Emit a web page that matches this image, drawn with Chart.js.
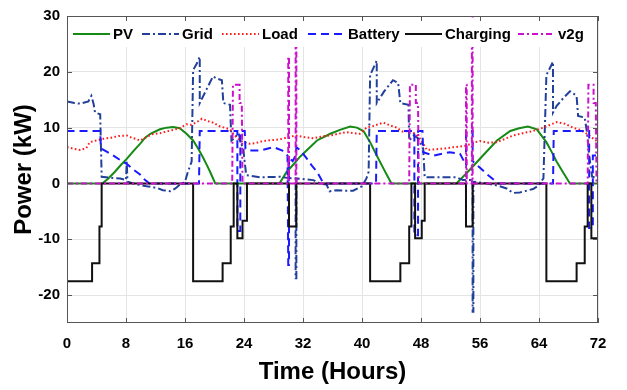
<!DOCTYPE html>
<html><head><meta charset="utf-8">
<script src="https://cdn.jsdelivr.net/npm/chart.js@4.4.0/dist/chart.umd.min.js"></script>
<style>html,body{margin:0;padding:0;background:#fff;}#wrap{width:627px;height:390px;}</style>
</head><body><div id="wrap"><canvas id="c" width="627" height="390"></canvas></div>
<script>
// ---- axis ticks ----
const xTicks = [0, 8, 16, 24, 32, 40, 48, 56, 64, 72];
const yTicks = [-20, -10, 0, 10, 20, 30];

// ---- series names ----
const seriesNames = ['PV', 'Grid', 'Load', 'Battery', 'Charging', 'v2g'];

// ---- PV (kW) ----
const pvTime  = [0, 4.8, 5.6, 6.5, 7.3, 8.1, 9.0, 9.9, 10.6, 11.3, 12.6, 13.5, 14.4, 15.3, 16.2, 17.1, 17.8, 18.5, 19.0, 19.4, 20.1,
                 28.8, 29.8, 30.7, 31.6, 32.8, 33.9, 35.7, 37.0, 38.4, 39.3, 40.2, 41.1, 42.0, 42.9, 43.5, 44.0,
                 52.8, 54.0, 55.0, 56.4, 58.3, 60.1, 61.3, 62.5, 63.7, 65.0, 65.7, 66.4, 67.3, 68.2, 72];
const pvPower = [0, 0, 0.9, 2.1, 3.3, 4.4, 5.8, 7.1, 8.2, 8.9, 9.7, 10.0, 10.1, 9.9, 8.9, 7.7, 6.2, 4.5, 3.2, 2.1, 0,
                 0, 2.1, 3.4, 4.8, 6.3, 7.7, 8.9, 9.6, 10.2, 10.0, 9.4, 7.4, 5.0, 2.7, 1.2, 0,
                 0, 1.6, 3.0, 5.0, 7.7, 9.4, 9.9, 10.2, 9.7, 7.4, 5.7, 3.9, 1.9, 0, 0];

// ---- Grid (kW) ----
const gridTime  = [0, 1.0, 1.8, 2.9, 3.3, 3.6, 3.8, 4.5, 4.7, 6.0, 7.2, 8.0, 8.1, 8.2, 9.0, 10.0, 10.8, 12.2, 13.0, 14.0, 14.7, 15.3, 16.0, 16.4, 16.9,
                   17.1, 17.6, 18.0, 18.0, 18.9, 19.8, 20.3, 21.0, 21.2, 22.1, 22.3, 22.8, 23.3, 23.5, 23.9, 24.3, 26.2, 28.9, 29.8, 31.0, 31.0, 31.1, 31.1,
                   33.4, 34.3, 35.2, 35.6, 36.5, 37.5, 38.8, 40.0, 40.6, 40.9, 41.1, 42.0, 42.0, 43.0, 44.2, 44.9, 45.2, 46.3, 46.4, 47.0, 47.5, 47.9, 48.3, 48.5,
                   50.5, 52.8, 53.7, 55.0, 55.0, 55.1, 55.1, 57.0, 58.7, 59.6, 60.5, 61.4, 62.3, 63.2, 63.9, 64.6, 65.0, 65.9, 65.9, 66.4, 67.3, 68.2, 68.9, 69.1,
                   69.3, 70.2, 70.5, 70.8, 71.2, 72.0];
const gridPower = [14.7, 14.4, 14.3, 14.7, 15.7, 14.3, 12.7, 12.4, 1.2, 1.0, 0.9, 0.6, 3.9, 0.3, 0.0, -0.3, -0.5, -0.8, -1.2, -1.4, -0.9, -0.2, 0.3, 2.1, 3.9,
                   20.3, 21.5, 22.7, 14.4, 16.8, 19.2, 18.8, 18.5, 14.4, 14.1, 7.7, 8.3, 9.0, 7.5, 6.2, 1.5, 1.1, 1.2, 1.0, 0.9, -17.0, -17.0, 0.9,
                   0.6, 0.0, -0.2, -1.4, -1.2, -1.3, -1.3, -0.5, 0.9, 2.1, 19.4, 22.0, 14.4, 16.5, 18.5, 18.0, 14.4, 14.1, 7.7, 8.6, 8.2, 7.4, 6.2, 1.1,
                   1.1, 1.1, 0.6, 0.6, -23.0, -23.0, 0.3, 0.0, -0.5, -0.9, -1.7, -1.6, -1.3, -1.0, -0.4, 0.9, 19.4, 21.8, 12.7, 13.9, 15.3, 16.5, 15.9, 15.6,
                   12.1, 11.8, 9.2, 5.0, 1.2, 1.0];

// ---- Load (kW) ----
const loadTime  = [0, 1.0, 1.8, 2.6, 3.1, 4.0, 4.9, 6.0, 7.0, 8.1, 8.6, 9.9, 10.8, 11.5, 12.6, 13.5, 14.4, 15.3, 16.2, 16.8, 17.5, 18.3, 19.0, 19.8,
                   20.6, 21.3, 22.1, 22.6, 23.2, 23.9, 24.8, 25.5, 26.3, 27.1, 28.0, 28.9, 30.0, 31.1, 32.2, 33.4, 34.5, 35.7, 36.8, 37.9, 38.8, 39.7,
                   40.6, 41.5, 42.9, 43.8, 44.7, 45.5, 46.5, 47.2, 47.9, 48.8, 49.7, 50.6, 51.5, 52.4, 53.3, 54.2, 55.1, 56.0, 57.2, 58.3, 59.4, 60.5,
                   61.8, 63.2, 64.6, 65.5, 66.4, 67.5, 68.6, 69.6, 70.5, 71.2, 72];
const loadPower = [6.5, 6.2, 6.0, 6.3, 7.4, 7.7, 8.0, 8.2, 8.5, 8.6, 8.3, 7.7, 8.3, 8.8, 9.0, 9.3, 9.6, 9.9, 10.6, 10.5, 10.9, 11.6, 11.2, 10.9,
                   10.3, 10.0, 9.7, 8.8, 8.0, 7.4, 7.1, 7.2, 7.5, 7.7, 7.8, 7.9, 8.3, 8.6, 8.3, 8.1, 8.4, 8.6, 8.9, 9.2, 9.0, 8.9,
                   10.0, 10.3, 10.9, 10.4, 10.0, 9.3, 9.4, 8.9, 8.0, 6.0, 6.1, 6.2, 6.3, 6.5, 6.6, 6.8, 7.3, 7.6, 7.3, 7.4, 8.0, 8.6,
                   9.0, 9.4, 10.0, 10.5, 11.0, 10.7, 10.0, 9.6, 8.9, 8.2, 7.4];

// ---- Battery (kW) ----
const battTime  = [0, 0, 4.5, 4.6, 5.5, 6.3, 7.2, 8.1, 9.0, 9.9, 10.6, 11.2, 17.9, 18.0, 23.1, 23.1, 23.5, 23.5, 24.1, 24.2, 25.0, 26.2, 28.0, 29.2,
                   29.9, 30.0, 30.1, 30.1, 30.6, 31.0, 31.1, 31.6, 32.5, 33.2, 33.9, 34.8, 41.9, 42.0, 47.1, 47.1, 47.6, 47.6, 48.2, 48.3, 49.7,
                   51.9, 53.3, 54.1, 54.1, 55.0, 55.0, 56.0, 57.0, 58.5, 65.9, 66.0, 70.8, 70.8, 71.3, 71.3, 72];
const battPower = [0, 9.4, 9.4, 6.3, 5.6, 5.0, 4.2, 3.5, 2.5, 1.6, 0.6, 0, 0, 9.4, 9.4, -8.5, -8.5, 9.4, 9.4, 6.2, 5.9, 5.9, 6.5, 5.9,
                   5.0, -14.6, -14.6, 4.6, 4.0, 5.0, 6.5, 6.0, 4.5, 3.2, 2.1, 0, 0, 9.4, 9.4, -9.3, -9.3, 9.4, 9.4, 5.6, 5.0,
                   5.6, 5.3, 3.3, 9.4, 9.4, 4.0, 2.8, 1.6, 0, 0, 9.4, 9.4, -8.0, -8.0, 5.0, 5.0];

// ---- EV charging (kW) ----
const chgTime  = [0, 3.4, 3.4, 4.4, 4.4, 4.7, 4.7, 17.1, 17.1, 21.1, 21.1, 22.2, 22.2, 22.6, 22.6, 23.1, 23.1, 23.8, 23.8, 24.4, 24.4,
                  30.1, 30.1, 31.1, 31.1, 41.1, 41.1, 45.2, 45.2, 46.4, 46.4, 46.7, 46.7, 47.2, 47.2, 48.1, 48.1, 48.5, 48.5,
                  54.1, 54.1, 55.0, 55.0, 65.0, 65.0, 69.1, 69.1, 70.2, 70.2, 70.6, 70.6, 71.1, 71.1, 72];
const chgPower = [-17.5, -17.5, -14.3, -14.3, -7.7, -7.7, 0, 0, -17.5, -17.5, -14.3, -14.3, -7.7, -7.7, 0, 0, -9.8, -9.8, -6.7, -6.7, 0,
                  0, -7.7, -7.7, 0, 0, -17.5, -17.5, -14.3, -14.3, -7.7, -7.7, 0, 0, -9.8, -9.8, -6.7, -6.7, 0,
                  0, -7.7, -7.7, 0, 0, -17.5, -17.5, -14.3, -14.3, -7.7, -7.7, 0, 0, -9.8, -9.8];

// ---- v2g (kW) ----
const v2gTime  = [0, 22.4, 22.5, 23.4, 23.4, 23.7, 23.8, 30.0, 30.0, 30.1, 30.1, 31.0, 31.0, 31.1, 31.1, 46.4, 46.5, 47.3, 47.3, 47.6, 47.7,
                  54.1, 54.1, 54.2, 54.2, 54.9, 54.9, 55.0, 55.0, 70.6, 70.7, 71.4, 71.4, 71.7, 71.8, 72];
const v2gPower = [0, 0, 17.7, 17.7, 14.4, 14.4, 0, 0, 22.7, 22.7, 0, 0, 25, 25, 0, 0, 17.7, 17.7, 14.4, 14.4, 0,
                  0, 17.7, 17.7, 0, 0, 30, 30, 0, 0, 17.7, 17.7, 14.4, 14.4, 0, 0];

const pts = (t, v) => t.map((x, i) => ({ x: x, y: v[i] }));

const FONT = "'Liberation Sans', Arial, Helvetica, sans-serif";
Chart.defaults.font.family = FONT;
Chart.defaults.color = '#000';

const styles = [
  { color: '#158a15', dash: [] },
  { color: '#22409a', dash: [8, 3, 2, 3] },
  { color: '#ff1a1a', dash: [1.6, 2.4] },
  { color: '#1a1aff', dash: [8, 5] },
  { color: '#111111', dash: [] },
  { color: '#cc11cc', dash: [6, 3, 2, 3] }
];
const seriesData = [pts(pvTime, pvPower), pts(gridTime, gridPower), pts(loadTime, loadPower),
                    pts(battTime, battPower), pts(chgTime, chgPower), pts(v2gTime, v2gPower)];

const datasets = seriesData.map((d, i) => ({
  label: seriesNames[i],
  data: d,
  borderColor: styles[i].color,
  backgroundColor: styles[i].color,
  borderDash: styles[i].dash,
  borderWidth: 2,
  pointRadius: 0,
  tension: 0,
  fill: false,
  order: 6 - i
}));

const legendX = [73, 142, 222, 308, 405, 518];

const framePlugin = {
  id: 'frame',
  afterDatasetsDraw(chart) {
    const { ctx, chartArea: a, scales } = chart;
    ctx.save();
    // legend background
    ctx.fillStyle = '#fff';
    ctx.fillRect(a.left + 1, a.top + 1.5, a.right - a.left - 2, 29.5);
    // legend items
    const yc = a.top + 18;
    ctx.font = 'bold 15px ' + FONT;
    ctx.textBaseline = 'middle';
    ctx.textAlign = 'left';
    seriesNames.forEach((n, i) => {
      const x0 = legendX[i];
      ctx.strokeStyle = styles[i].color;
      ctx.lineWidth = 2;
      ctx.setLineDash(styles[i].dash);
      ctx.beginPath(); ctx.moveTo(x0, yc); ctx.lineTo(x0 + 37, yc); ctx.stroke();
      ctx.setLineDash([]);
      ctx.fillStyle = '#000';
      ctx.fillText(n, x0 + 40, yc + 1);
    });
    // frame
    ctx.strokeStyle = '#555';
    ctx.lineWidth = 1;
    ctx.strokeRect(Math.round(a.left) + 0.5, Math.round(a.top) + 0.5, Math.round(a.right - a.left) - 1, Math.round(a.bottom - a.top) - 1);
    // inner tick marks
    ctx.beginPath();
    yTicks.forEach(v => {
      const y = Math.round(scales.y.getPixelForValue(v)) + 0.5;
      ctx.moveTo(a.left, y); ctx.lineTo(a.left + 5, y);
      ctx.moveTo(a.right, y); ctx.lineTo(a.right - 5, y);
    });
    xTicks.forEach(v => {
      const x = Math.round(scales.x.getPixelForValue(v)) + 0.5;
      ctx.moveTo(x, a.bottom); ctx.lineTo(x, a.bottom - 5);
      ctx.moveTo(x, a.top); ctx.lineTo(x, a.top + 5);
    });
    ctx.stroke();
    ctx.restore();
  }
};

new Chart(document.getElementById('c'), {
  type: 'line',
  data: { datasets: datasets },
  options: {
    responsive: false,
    animation: false,
    devicePixelRatio: 1,
    layout: { padding: { left: 0, right: 29, top: 11, bottom: 0 } },
    plugins: { legend: { display: false }, tooltip: { enabled: false } },
    scales: {
      x: {
        type: 'linear', min: 0, max: 72,
        afterBuildTicks: s => { s.ticks = xTicks.map(v => ({ value: v })); },
        afterFit: s => { s.height = 67; },
        grid: { color: '#e4e4e4', drawTicks: false },
        border: { display: false },
        ticks: { padding: 12, font: { size: 15, weight: 'bold' }, color: '#000', maxRotation: 0 },
        title: { display: true, text: 'Time (Hours)', font: { size: 24, weight: 'bold' }, color: '#000', padding: { top: 0, bottom: 3 } }
      },
      y: {
        type: 'linear', min: -25, max: 30,
        afterBuildTicks: s => { s.ticks = yTicks.map(v => ({ value: v })); },
        afterFit: s => { s.width = 67; },
        grid: { color: '#e4e4e4', drawTicks: false },
        border: { display: false },
        ticks: { padding: 7, font: { size: 15, weight: 'bold' }, color: '#000' },
        title: { display: true, text: 'Power (kW)', font: { size: 24, weight: 'bold' }, color: '#000', padding: { top: 10, bottom: 0 } }
      }
    }
  },
  plugins: [framePlugin]
});
</script>
</body></html>
